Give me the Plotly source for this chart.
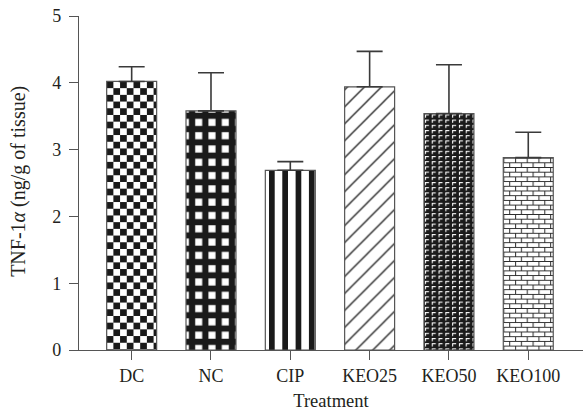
import plotly.graph_objects as go

# TNF-1α level per treatment group (mean with upper SEM)
groups = ["DC", "NC", "CIP", "KEO25", "KEO50", "KEO100"]
tnf_mean = [4.02, 3.58, 2.69, 3.94, 3.54, 2.88]
tnf_sem = [0.22, 0.57, 0.13, 0.53, 0.73, 0.38]
y_ticks = [0, 1, 2, 3, 4, 5]

# hatch style for every group: (shape, fg, bg, size, solidity)
hatches = [
    ("x", "#1a1a1a", "white", 9.5, 0.5),
    ("+", "#1a1a1a", "white", 13.3, 0.72),
    ("|", "#1a1a1a", "white", 13.3, 0.43),
    ("/", "#1e1e1e", "white", 12, 0.11),
    ("+", "white", "#1a1a1a", 7, 0.25),
    ("+", "#333333", "white", 5.6, 0.3),
]

FONT = "Liberation Serif"
INK = "#231f20"
LINE = "#555555"

fig = go.Figure()
for name, mean, sem, (shape, fg, bg, size, sol) in zip(groups, tnf_mean, tnf_sem, hatches):
    fig.add_trace(go.Bar(
        x=[name], y=[mean],
        width=0.63,
        marker=dict(
            color=bg,
            line=dict(color=LINE, width=1.2),
            pattern=dict(shape=shape, fgcolor=fg, bgcolor=bg, size=size,
                         solidity=sol, fillmode="replace"),
        ),
        error_y=dict(type="data", symmetric=False, array=[sem], arrayminus=[0],
                     color="#3a3a3a", thickness=1.6, width=13),
        showlegend=False,
    ))

fig.update_layout(
    width=584, height=417,
    margin=dict(l=79, r=1, t=16, b=67),
    paper_bgcolor="white", plot_bgcolor="white",
    font=dict(family=FONT, size=18, color=INK),
    xaxis=dict(
        range=[-0.664, 5.69],
        showline=True, linecolor=LINE, linewidth=1.4,
        ticks="outside", ticklen=9, tickwidth=1.4, tickcolor=LINE,
        showgrid=False, zeroline=False,
        tickfont=dict(family=FONT, size=18, color=INK),
        title=dict(text="Treatment", font=dict(family=FONT, size=18.5, color=INK), standoff=9),
    ),
    yaxis=dict(
        range=[0, 5], tickvals=y_ticks,
        showline=True, linecolor=LINE, linewidth=1.4,
        ticks="outside", ticklen=9, tickwidth=1.4, tickcolor=LINE,
        showgrid=False, zeroline=False,
        tickfont=dict(family=FONT, size=18, color=INK),
        ticklabelstandoff=4,
    ),
    annotations=[dict(
        text="TNF-1<i>α</i> (ng/g of tissue)",
        xref="paper", yref="paper", x=-0.12, y=0.505,
        xanchor="center", yanchor="middle", textangle=-90, showarrow=False,
        font=dict(family=FONT, size=20, color=INK),
    )],
)

# Custom tiles (checkerboard, "L" marks, bricks) swapped into the pattern
# definitions of the DC, KEO50 and KEO100 bars once the plot is drawn.
tile_js = """
var gd = document.getElementById('{plot_id}');
var NS = 'http://www.w3.org/2000/svg';
function el(tag, attrs) {
  var e = document.createElementNS(NS, tag);
  for (var k in attrs) e.setAttribute(k, attrs[k]);
  return e;
}
var tiles = {
  0: {w: 13.4, h: 13.4, draw: function(p) {
        p.appendChild(el('rect', {x: 0, y: 0, width: 13.4, height: 13.4, fill: '#ffffff'}));
        p.appendChild(el('rect', {x: 0, y: 0, width: 6.7, height: 6.7, fill: '#1a1a1a'}));
        p.appendChild(el('rect', {x: 6.7, y: 6.7, width: 6.7, height: 6.7, fill: '#1a1a1a'}));
      }},
  4: {w: 6.8, h: 5.2, draw: function(p) {
        p.appendChild(el('rect', {x: 0, y: 0, width: 6.8, height: 5.2, fill: '#1a1a1a'}));
        p.appendChild(el('path', {d: 'M1.5,4.2V1.5H5', stroke: '#ffffff', 'stroke-width': 1.1, fill: 'none'}));
      }},
  5: {w: 11.7, h: 9.4, draw: function(p) {
        p.appendChild(el('rect', {x: 0, y: 0, width: 11.7, height: 9.4, fill: '#ffffff'}));
        p.appendChild(el('path', {d: 'M0,0.5H11.7M0,5.2H11.7M0.6,0.5V5.2M6.45,5.2V9.4',
                                  stroke: '#2a2a2a', 'stroke-width': 1, fill: 'none'}));
      }}
};
gd.querySelectorAll('g.trace.bars').forEach(function(tr, i) {
  var t = tiles[i];
  if (!t) return;
  var path = tr.querySelector('g.point path');
  if (!path) return;
  var m = /url\\(["']?#([^"')]+)/.exec(path.getAttribute('style') || '');
  if (!m) return;
  var pat = document.getElementById(m[1]);
  if (!pat) return;
  var bb = path.getBBox();
  while (pat.firstChild) pat.removeChild(pat.firstChild);
  pat.setAttribute('width', t.w);
  pat.setAttribute('height', t.h);
  pat.setAttribute('x', bb.x);
  pat.setAttribute('y', bb.y);
  pat.setAttribute('patternUnits', 'userSpaceOnUse');
  pat.removeAttribute('patternTransform');
  t.draw(pat);
});
"""

fig.write_html("out.html", post_script=tile_js)
